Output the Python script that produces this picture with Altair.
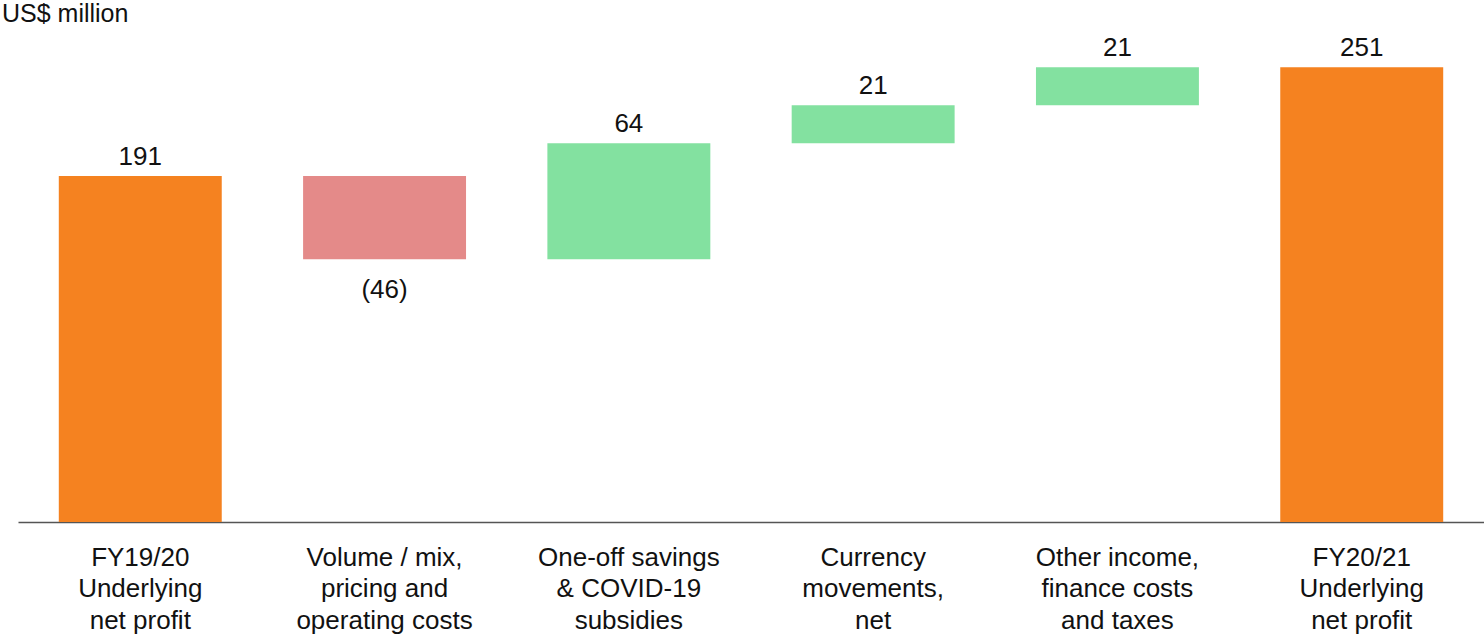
import altair as alt
import pandas as pd

# Bridge from FY19/20 to FY20/21 underlying net profit (US$ million)
categories = [
    "FY19/20|Underlying|net profit",
    "Volume / mix,|pricing and|operating costs",
    "One-off savings|& COVID-19|subsidies",
    "Currency|movements,|net",
    "Other income,|finance costs|and taxes",
    "FY20/21|Underlying|net profit",
]
amounts = [191, -46, 64, 21, 21, 251]
kinds = ["total", "delta", "delta", "delta", "delta", "total"]

# Running totals for the floating bars
rows = []
running = 0
for cat, amt, kind in zip(categories, amounts, kinds):
    if kind == "total":
        start, end = 0, amt
        running = amt
        colour_key = "total"
    else:
        start, end = running, running + amt
        running = end
        colour_key = "up" if amt >= 0 else "down"
    if amt < 0:
        label = f"({abs(amt)})"
        anchor = min(start, end)
        side = "below"
    else:
        label = str(amt)
        anchor = max(start, end)
        side = "above"
    rows.append(dict(category=cat, start=start, end=end, kind=colour_key,
                     label=label, anchor=anchor, side=side))
df = pd.DataFrame(rows)

FONT = "Liberation Sans"

x_enc = alt.X(
    "category:N",
    sort=categories,
    scale=alt.Scale(paddingInner=0.333, paddingOuter=0.167),
    axis=alt.Axis(
        title=None,
        labelAngle=0,
        labelExpr="split(datum.label, '|')",
        labelFontSize=26,
        labelLineHeight=31.5,
        labelPadding=22,
        labelColor="#111111",
        labelFont=FONT,
        labelLimit=0,
        ticks=False,
        grid=False,
        domainColor="#555555",
        domainWidth=1.3,
    ),
)
y_scale = alt.Scale(domain=[0, 271.5], nice=False, zero=True)

base = alt.Chart(df)

bars = base.mark_bar().encode(
    x=x_enc,
    y=alt.Y("start:Q", scale=y_scale, axis=None),
    y2="end:Q",
    color=alt.Color(
        "kind:N",
        scale=alt.Scale(domain=["total", "up", "down"],
                        range=["#F58220", "#83E1A0", "#E48A89"]),
        legend=None,
    ),
)

labels_above = base.transform_filter(alt.datum.side == "above").mark_text(
    baseline="bottom", dy=-6, fontSize=26, font=FONT, color="#111111"
).encode(
    x=alt.X("category:N", sort=categories),
    y=alt.Y("anchor:Q", scale=y_scale),
    text="label:N",
)

labels_below = base.transform_filter(alt.datum.side == "below").mark_text(
    baseline="top", dy=18, fontSize=26, font=FONT, color="#111111"
).encode(
    x=alt.X("category:N", sort=categories),
    y=alt.Y("anchor:Q", scale=y_scale),
    text="label:N",
)

chart = (
    alt.layer(bars, labels_above, labels_below)
    .properties(
        width=1466,
        height=492,
        autosize=alt.AutoSizeParams(type="none"),
        padding={"left": 18, "top": 30, "right": 0, "bottom": 114},
        title=alt.TitleParams(
            "US$ million",
            anchor="start",
            frame="group",
            fontSize=25,
            fontWeight="normal",
            font=FONT,
            color="#111111",
            offset=3,
            dx=-16,
        ),
    )
    .configure_view(stroke=None)
)

chart.save("out.html", embed_options={"renderer": "svg", "actions": False})
